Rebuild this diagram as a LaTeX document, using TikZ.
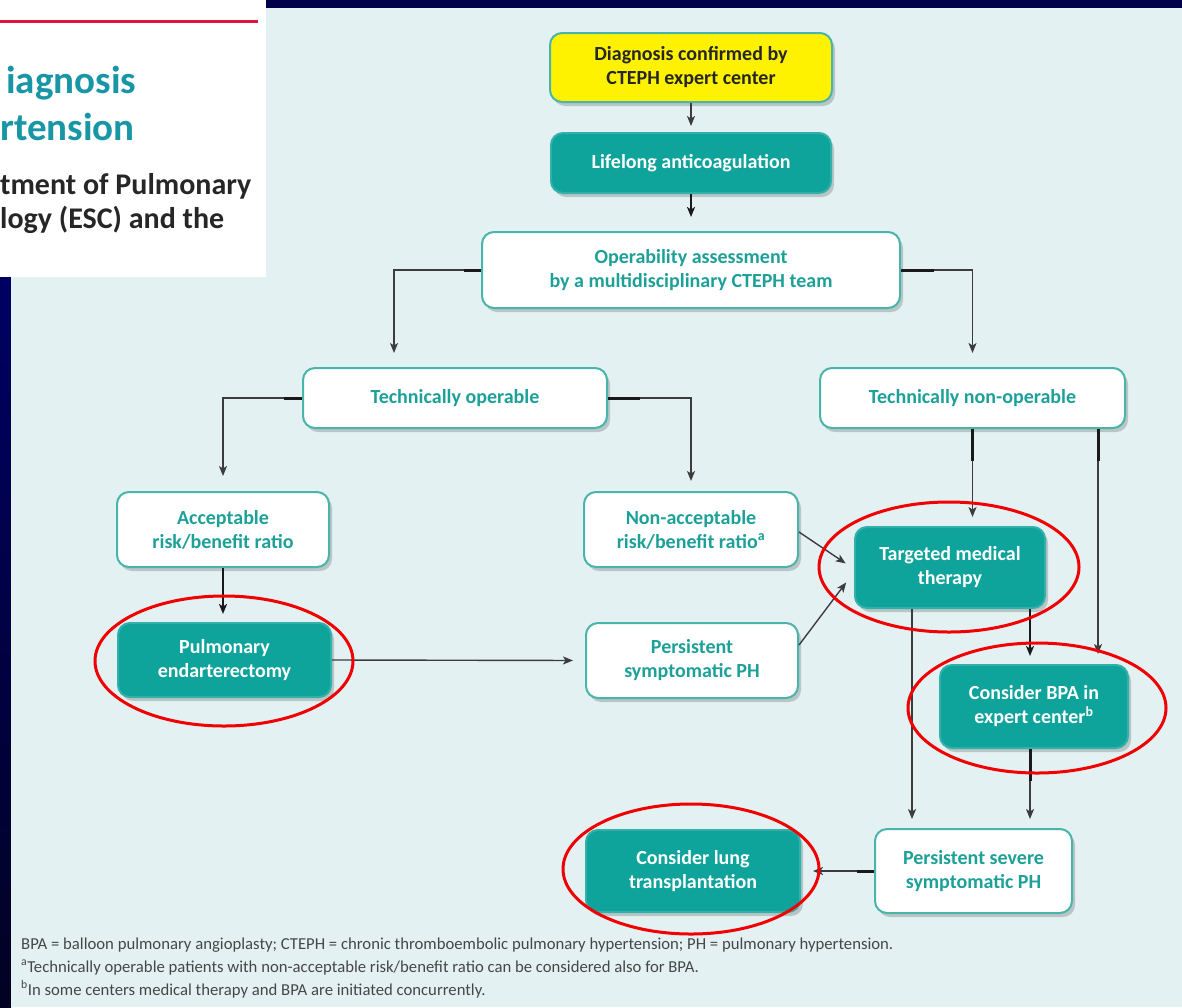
\documentclass[tikz,border=0pt]{standalone}
\usepackage{fontspec}
\setmainfont{Carlito}
\usetikzlibrary{arrows.meta,shadows,calc}
\definecolor{navybg}{RGB}{2,0,72}
\definecolor{navytop}{RGB}{0,0,100}
\definecolor{navybot}{RGB}{2,2,35}
\definecolor{panel}{RGB}{228,241,242}
\definecolor{crimsonline}{RGB}{225,20,60}
\definecolor{tealfill}{RGB}{14,163,155}
\definecolor{tealtext}{RGB}{28,160,152}
\definecolor{tealborder}{RGB}{72,180,170}
\definecolor{titleteal}{RGB}{24,150,165}
\definecolor{yellowfill}{RGB}{255,242,0}
\definecolor{linegray}{RGB}{60,60,60}
\definecolor{stubblack}{RGB}{25,25,25}
\definecolor{notegray}{RGB}{70,70,70}
\definecolor{ringred}{RGB}{240,0,0}
\tikzset{
 box/.style={rounded corners=12pt, line width=2pt, draw=tealborder, align=center, inner sep=0pt,
   font=\bfseries\fontsize{20}{24}\selectfont,
   drop shadow={shadow xshift=3pt, shadow yshift=-4pt, opacity=0.18, fill=black}},
 wbox/.style={box, fill=white, text=tealtext},
 tbox/.style={box, fill=tealfill, draw=tealfill!85!white, text=white},
 ybox/.style={box, fill=yellowfill, text=black!85},
 arr/.style={draw=linegray, line width=1.4pt, -{Stealth[length=10pt,width=8pt,inset=2.5pt]}},
 tharr/.style={arr, draw=stubblack, line width=2.6pt},
 stubline/.style={draw=stubblack, line width=3pt},
 ring/.style={draw=ringred, line width=3pt},
 note/.style={anchor=base west, inner sep=0pt, text=notegray, font=\fontsize{16.7}{19}\selectfont},
 head/.style={anchor=base west, inner sep=0pt},
}
\begin{document}
\begin{tikzpicture}[x=1pt,y=-1pt]
\useasboundingbox (0,0) rectangle (1182,1007);
% background
\fill[navybg] (0,0) rectangle (1182,1007);
\shade[top color=navytop,bottom color=navybot] (0,277) rectangle (11,1007);
\fill[panel] (11,8) rectangle (1182,1007);
\fill[white] (0,0) rectangle (266,277);
\draw[crimsonline, line width=3pt] (0,21.5) -- (258,21.5);
% heading fragments
\node[head, text=titleteal, font=\bfseries\fontsize{39}{40}\selectfont] (h1) at (6,93) {iagnosis};
\node[head, text=titleteal, font=\bfseries\fontsize{39}{40}\selectfont] (h2) at (0,140) {rtension};
\node[head, text=black!85, font=\bfseries\fontsize{30}{32}\selectfont] (h3) at (0,194) {tment of Pulmonary};
\node[head, text=black!85, font=\bfseries\fontsize{30}{32}\selectfont] (h4) at (0,228) {logy (ESC) and the};
% nodes
\node[ybox, minimum width=282pt, minimum height=69pt] (diag) at (691,67.5) {Diagnosis confirmed by\\CTEPH expert center};
\node[tbox, minimum width=280pt, minimum height=60pt] (life) at (691,163) {Lifelong anticoagulation};
\node[wbox, minimum width=418pt, minimum height=76pt] (oper) at (691,270) {Operability assessment\\by a multidisciplinary CTEPH team};
\node[wbox, minimum width=304pt, minimum height=60pt] (top) at (455,398) {Technically operable};
\node[wbox, minimum width=305pt, minimum height=60pt] (tnon) at (972.5,398) {Technically non-operable};
\node[wbox, minimum width=212pt, minimum height=75pt] (acc) at (223,529.5) {Acceptable\\risk/benefit ratio};
\node[wbox, minimum width=214pt, minimum height=75pt] (nonacc) at (691,529.5) {Non-acceptable\\risk/benefit ratio\textsuperscript{a}};
\node[tbox, minimum width=190pt, minimum height=81pt] (tmt) at (950,567.5) {Targeted medical\\therapy};
\node[tbox, minimum width=213pt, minimum height=74pt] (pea) at (224.5,660) {Pulmonary\\endarterectomy};
\node[wbox, minimum width=212pt, minimum height=75pt] (psym) at (692,660.5) {Persistent\\symptomatic PH};
\node[tbox, minimum width=188pt, minimum height=83pt] (bpa) at (1034,706.5) {Consider BPA in\\expert center\textsuperscript{b}};
\node[tbox, minimum width=214pt, minimum height=82pt] (lung) at (693,871) {Consider lung\\transplantation};
\node[wbox, minimum width=197pt, minimum height=84pt] (sev) at (973.5,871) {Persistent severe\\symptomatic PH};
% connectors
\draw[arr, shorten >=6pt] (diag.south) -- (life.north);
\draw[tharr, shorten >=14pt] (life.south) -- (oper.north);
\draw[arr, shorten >=14pt] (oper.west) -| ([xshift=-61pt]top.north);
\draw[stubline] (oper.west) -- ++(-17,0);
\draw[arr, shorten >=14pt] (oper.east) -| (tnon.north);
\draw[stubline] (oper.east) -- ++(33,0);
\draw[arr, shorten >=15pt] (top.west) -| (acc.north);
\draw[stubline] (top.west) -- ++(-18,0);
\draw[arr, shorten >=10pt] (top.east) -| (nonacc.north);
\draw[stubline] (top.east) -- ++(32,0);
\draw[arr, shorten >=9pt] (tnon.south) -- (tnon.south |- tmt.north);
\draw[stubline] (tnon.south) -- ++(0,32);
\coordinate (c1) at ([xshift=125.5pt]tnon.south);
\draw[arr, shorten >=10pt] (c1) -- (c1 |- bpa.north);
\draw[stubline] (c1) -- ++(0,32);
\draw[tharr, shorten >=8pt] (acc.south) -- (acc.south |- pea.north);
\draw[arr, shorten >=10pt] ([yshift=-2.5pt]nonacc.east) -- ([yshift=-1.5pt]tmt.west);
\draw[arr, shorten >=13pt] ([yshift=15.5pt]psym.east) -- ([yshift=-4.5pt]tmt.west);
\draw[arr, shorten >=12pt] (pea.east) -- (psym.west);
\coordinate (c2) at ([xshift=-38pt]tmt.south);
\draw[arr, shorten >=9pt] (c2) -- (c2 |- sev.north);
\coordinate (c3) at ([xshift=80pt]tmt.south);
\draw[tharr, shorten >=8pt] (c3) -- (c3 |- bpa.north);
\coordinate (c4) at ([xshift=-4pt]bpa.south);
\draw[arr, shorten >=9pt] (c4) -- (c4 |- sev.north);
\draw[stubline] (c4) -- ++(0,32);
\draw[arr, shorten >=12pt] (sev.west) -- (lung.east);
\draw[stubline] (sev.west) -- ++(-17,0);
% footnotes
\node[note] (n1) at (21,949) {BPA = balloon pulmonary angioplasty; CTEPH = chronic thromboembolic pulmonary hypertension; PH = pulmonary hypertension.};
\node[note] (n2) at (21,972) {\textsuperscript{a}Technically operable patients with non-acceptable risk/benefit ratio can be considered also for BPA.};
\node[note] (n3) at (21,995) {\textsuperscript{b}In some centers medical therapy and BPA are initiated concurrently.};
% red rings
\draw[ring] (224,661) ellipse [x radius=129pt, y radius=65pt];
\draw[ring] (949,567) ellipse [x radius=130pt, y radius=65pt];
\draw[ring] (1037,708) ellipse [x radius=129pt, y radius=65pt];
\draw[ring] (691,869) ellipse [x radius=128pt, y radius=65pt];
\end{tikzpicture}
\end{document}
